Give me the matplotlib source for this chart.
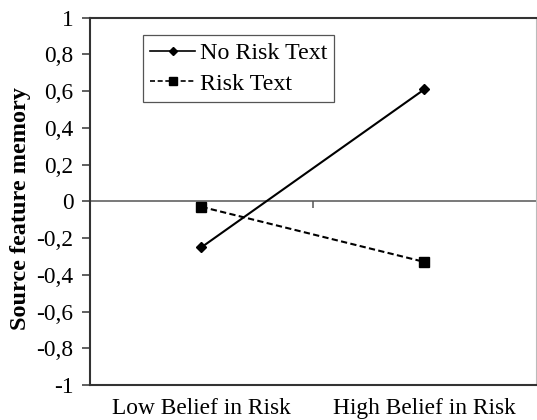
import numpy as np
import matplotlib.pyplot as plt
from matplotlib.lines import Line2D

# data
groups = ['Low Belief in Risk', 'High Belief in Risk']
no_risk_text = [-0.25, 0.61]
risk_text = [-0.03, -0.33]
series_names = ['No Risk Text', 'Risk Text']
y_ticks = [1, 0.8, 0.6, 0.4, 0.2, 0, -0.2, -0.4, -0.6, -0.8, -1]

plt.rcParams['font.family'] = ['Liberation Serif', 'DejaVu Serif']

fig = plt.figure(figsize=(5.37, 4.2), dpi=100)
ax = fig.add_axes([0.1676, 0.0833, 0.8304, 0.8747])

x = np.arange(len(groups)) + 0.5

ax.plot(x, no_risk_text, color='black', lw=1.5, marker='D', ms=5.5,
        label=series_names[0])
ax.plot(x, risk_text, color='black', lw=1.5, ls=(0, (3, 1.6)), marker='s',
        ms=6.5, label=series_names[1])

# zero line with the category tick
ax.axhline(0, color='#555555', lw=1.1, zorder=1)
ax.vlines(1, -0.035, 0, color='#555555', lw=1.1)

ax.set_xlim(0, 2)
ax.set_ylim(-1, 1)
ax.set_xticks(x)
ax.set_xticklabels(groups, fontsize=16.8)
ax.tick_params(axis='x', length=0, pad=9)

ax.set_yticks(y_ticks)
ax.set_yticklabels([('%g' % v).replace('.', ',') for v in y_ticks], fontsize=16.8)
ax.tick_params(axis='y', length=6, width=1.2, color='#444444', pad=6)

for side in ['left', 'bottom', 'top']:
    ax.spines[side].set_color('#333333')
    ax.spines[side].set_linewidth(1.5)
ax.spines['right'].set_color('#bbbbbb')
ax.spines['right'].set_linewidth(0.8)

ax.set_ylabel('Source feature memory', fontsize=17.5, fontweight='bold')
ax.yaxis.set_label_coords(-0.133, 0.48)

handles = [
    Line2D([], [], color='black', lw=1.2, marker='D', ms=4.5),
    Line2D([], [], color='black', lw=1.2, ls=(0, (3, 1.6)), marker='s', ms=5.5),
]
leg = ax.legend(handles, series_names, loc='upper left',
                bbox_to_anchor=(0.119, 0.952), borderaxespad=0,
                fontsize=17.3, handlelength=1.85, handletextpad=0.2,
                labelspacing=0.35, borderpad=0.3, fancybox=False,
                framealpha=1, edgecolor='#555555')
leg.get_frame().set_linewidth(0.9)

fig.savefig('out.png', dpi=100)
